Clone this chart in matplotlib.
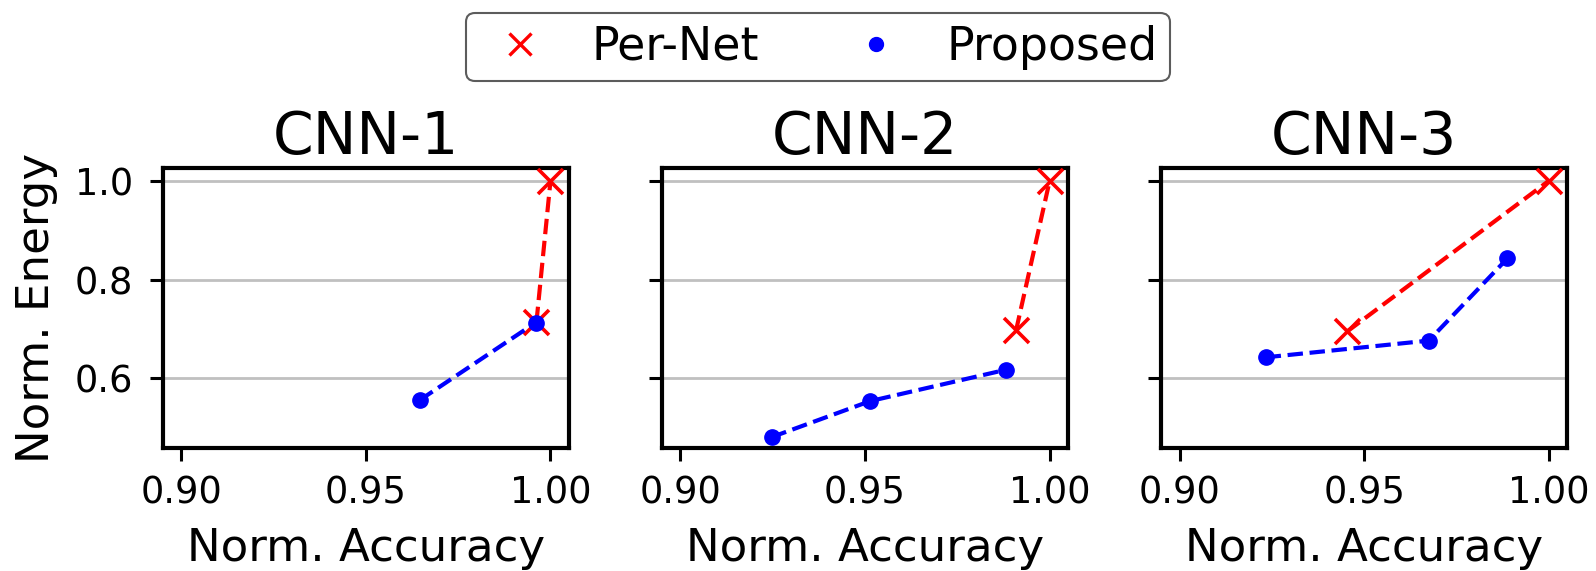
import matplotlib

matplotlib.use("Agg")
import matplotlib.pyplot as plt
from matplotlib.lines import Line2D

titles = ["CNN-1", "CNN-2", "CNN-3"]

pernet_acc = [
    [0.9962, 1.0],
    [0.9909, 1.0],
    [0.9454, 1.0],
]
pernet_energy = [
    [0.714, 1.0],
    [0.697, 1.0],
    [0.695, 1.0],
]
proposed_acc = [
    [0.9646, 0.996],
    [0.9247, 0.9514, 0.9882],
    [0.9233, 0.9675, 0.9888],
]
proposed_energy = [
    [0.556, 0.713],
    [0.481, 0.554, 0.6175],
    [0.6426, 0.6765, 0.843],
]

x_ticks = [0.90, 0.95, 1.00]
y_ticks = [0.6, 0.8, 1.0]

plt.rcParams["font.family"] = "DejaVu Sans"

fig, axes = plt.subplots(1, 3, figsize=(15.96, 5.71), dpi=100, sharey=True)
fig.subplots_adjust(left=0.102, right=0.982, bottom=0.2154, top=0.7058, wspace=0.229)

for i, ax in enumerate(axes):
    ax.grid(axis="y", color="#c0c0c0", linewidth=2.0, zorder=0)
    ax.plot(pernet_acc[i], pernet_energy[i], color="red", linestyle="--", linewidth=3.0,
            marker="x", markersize=18, markeredgewidth=2.6, zorder=3)
    ax.plot(proposed_acc[i], proposed_energy[i], color="blue", linestyle="--", linewidth=3.0,
            marker="o", markersize=11, zorder=4)
    ax.set_xlim(0.895, 1.005)
    ax.set_ylim(0.459, 1.026)
    ax.set_xticks(x_ticks)
    ax.set_xticklabels([f"{v:.2f}" for v in x_ticks])
    ax.set_yticks(y_ticks)
    ax.set_title(titles[i], fontsize=42, pad=10)
    ax.set_xlabel("Norm. Accuracy", fontsize=32.5, labelpad=11)
    ax.tick_params(axis="both", labelsize=26.5, length=9.4, width=2.2)
    ax.tick_params(axis="x", pad=9.5)
    ax.tick_params(axis="y", pad=12)
    for spine in ax.spines.values():
        spine.set_linewidth(3.0)

axes[0].set_yticklabels([f"{v:.1f}" for v in y_ticks])
axes[0].set_ylabel("Norm. Energy", fontsize=32.5, labelpad=12)

handles = [
    Line2D([], [], color="red", marker="x", linestyle="none", markersize=16, markeredgewidth=2.4),
    Line2D([], [], color="blue", marker="o", linestyle="none", markersize=10),
]
legend = fig.legend(handles, ["Per-Net", "Proposed"], loc="center", bbox_to_anchor=(0.5124, 0.9173),
                    ncol=2, fontsize=33, frameon=True, fancybox=True, edgecolor="#333333",
                    borderpad=0.25, handlelength=1.86, handletextpad=0.62, columnspacing=1.63,
                    borderaxespad=0.0)
legend.get_frame().set_linewidth(1.5)

fig.savefig("out.png", dpi=100)
